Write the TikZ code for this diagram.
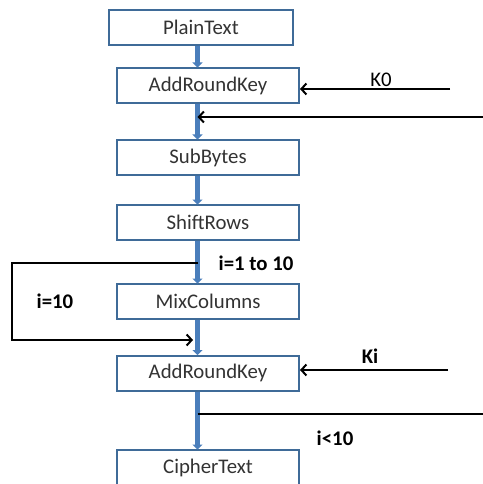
\documentclass[tikz,border=0pt]{standalone}
\usepackage{fontspec}
\setmainfont{Carlito}
\usetikzlibrary{arrows.meta}
\definecolor{boxline}{HTML}{3F6B98}
\definecolor{flowblue}{HTML}{4A7EBB}
\definecolor{boxtext}{HTML}{333333}
\tikzset{
  stage/.style={draw=boxline, line width=2bp, fill=white, minimum width=182bp,
    minimum height=35bp, inner sep=0pt, text=boxtext, font=\fontsize{20.8bp}{24bp}\selectfont},
  flow/.style={draw=flowblue, line width=5bp, -{Triangle[width=10bp,length=5bp]}, shorten >=-0.5bp},
  keyarrow/.style={draw=black, line width=2bp, -{Straight Barb[length=5bp,width=11bp,line width=2bp]}},
  keyline/.style={draw=black, line width=2bp},
  lbl/.style={font=\bfseries\fontsize{20.8bp}{24bp}\selectfont, inner sep=0pt},
}
\begin{document}
\begin{tikzpicture}[x=1bp, y=-1bp]
  \useasboundingbox (0,0) rectangle (483,484);

  % the cipher stages
  \node[stage, minimum width=184bp] (plain) at (201,27.5) {PlainText};
  \node[stage] (ark1)   at (208,85.5)  {AddRoundKey};
  \node[stage] (sub)    at (208,157.5) {SubBytes};
  \node[stage] (shift)  at (208,222.5) {ShiftRows};
  \node[stage] (mix)    at (208,301.5) {MixColumns};
  \node[stage] (ark2)   at (208,373)   {AddRoundKey};
  \node[stage] (cipher) at (208,467.5) {CipherText};

  % main data path
  \coordinate (spine) at (197.5,0);
  \draw[flow] (plain.south -| spine) -- (ark1.north -| spine);
  \draw[flow] (ark1.south -| spine) -- (sub.north -| spine);
  \draw[flow] (sub.south -| spine) -- (shift.north -| spine);
  \draw[flow] (shift.south -| spine) -- (mix.north -| spine);
  \draw[flow] (mix.south -| spine) -- (ark2.north -| spine);
  \draw[flow] (ark2.south -| spine) -- (cipher.north -| spine);

  % initial round key
  \coordinate (k0) at (450,89);
  \draw[keyarrow] (k0) -- (k0 -| ark1.east);
  \node[inner sep=0pt, font=\fontsize{20.8bp}{24bp}\selectfont, anchor=base] (k0lbl) at (381,87) {K0};

  % feedback from the round output
  \coordinate (fb) at (483,117);
  \draw[keyarrow] (fb) -- (fb -| spine);

  % skip of MixColumns in the last round
  \coordinate (skipout) at (198,263);
  \coordinate (skipl) at (12,263);
  \coordinate (skipb) at (12,340);
  \coordinate (skipin) at (193,340);
  \draw[keyarrow] (skipout) -- (skipl) -- (skipb) -- (skipin);
  \node[lbl] (rounds) at (256,263) {i=1 to 10};
  \node[lbl] (last) at (55,301) {i=10};

  % round key
  \coordinate (ki) at (448,370);
  \draw[keyarrow] (ki) -- (ki -| ark2.east);
  \node[lbl] (kilbl) at (370,356) {Ki};

  % loop back
  \coordinate (loop) at (483,414);
  \draw[keyline] (loop -| spine) -- (loop);
  \node[lbl] (cond) at (335,438) {i<10};
\end{tikzpicture}
\end{document}
